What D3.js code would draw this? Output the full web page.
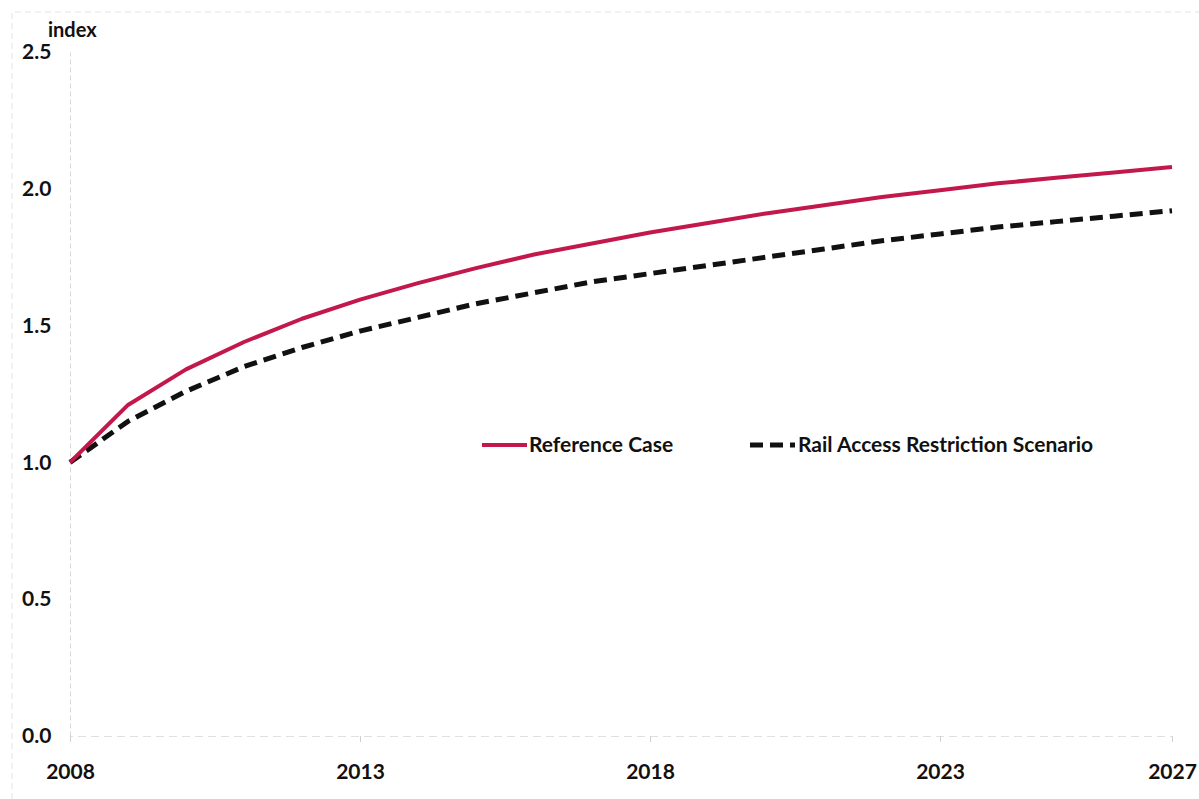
<!DOCTYPE html>
<html>
<head>
<meta charset="utf-8">
<script src="https://cdn.jsdelivr.net/npm/d3@7"></script>
<style>
  body { margin: 0; background: #fff; }
  text { font-family: Lato, "Open Sans", sans-serif; }
</style>
</head>
<body>
<div id="chart"></div>
<script>
// data
const years = [2008, 2009, 2010, 2011, 2012, 2013, 2014, 2015, 2016, 2017,
  2018, 2019, 2020, 2021, 2022, 2023, 2024, 2025, 2026, 2027];
const referenceCase = [1.00, 1.21, 1.34, 1.44, 1.525, 1.595, 1.655, 1.71, 1.76, 1.80,
  1.84, 1.875, 1.91, 1.94, 1.97, 1.995, 2.02, 2.04, 2.06, 2.08];
const railRestriction = [1.00, 1.15, 1.26, 1.35, 1.42, 1.48, 1.53, 1.58, 1.62, 1.66,
  1.69, 1.72, 1.75, 1.78, 1.81, 1.835, 1.86, 1.88, 1.90, 1.92];
const xTicks = [2008, 2013, 2018, 2023, 2027];
const yTicks = [0, 0.5, 1.0, 1.5, 2.0, 2.5];
const seriesNames = ['Reference Case', 'Rail Access Restriction Scenario'];

const width = 1199, height = 799;
const plotLeft = 70, plotRight = 1172, plotTop = 52, plotBottom = 736;
const labelFont = '21px';

let svg = d3.select('#chart')
  .append('svg')
  .attr('width', width)
  .attr('height', height);

let xScale = d3.scaleLinear().domain([2008, 2027]).range([plotLeft, plotRight]);
let yScale = d3.scaleLinear().domain([0, 2.5]).range([plotBottom, plotTop]);

// faint scan border
svg.append('path')
  .attr('d', `M12,${height} V12 H${width}`)
  .attr('fill', 'none')
  .attr('stroke', '#e4e4e4')
  .attr('stroke-width', 1)
  .attr('stroke-dasharray', '6,4');

// axes (very light, like the scan)
let yAxis = svg.append('g')
  .attr('transform', `translate(${plotLeft},0)`)
  .call(d3.axisLeft(yScale).tickValues(yTicks).tickSize(0).tickFormat(d3.format('.1f')));
yAxis.select('.domain').attr('stroke', '#d8d8d8').attr('stroke-dasharray', '5,3');
yAxis.selectAll('text')
  .attr('x', -48)
  .attr('text-anchor', 'start')
  .attr('fill', '#111')
  .style('font-size', labelFont)
  .style('font-weight', 'bold');

let xAxis = svg.append('g')
  .attr('transform', `translate(0,${plotBottom})`)
  .call(d3.axisBottom(xScale).tickValues(xTicks).tickSize(6).tickFormat(d3.format('d')));
xAxis.select('.domain').attr('stroke', '#e0e0e0').attr('stroke-dasharray', '8,5');
xAxis.selectAll('.tick line').attr('stroke', '#d0d0d0');
xAxis.selectAll('text')
  .attr('y', 28)
  .attr('fill', '#111')
  .style('font-size', labelFont)
  .style('font-weight', 'bold');

svg.append('text')
  .attr('x', 48)
  .attr('y', 37)
  .attr('fill', '#111')
  .style('font-size', '20px')
  .style('font-weight', 'bold')
  .text('index');

// lines, straight segments between the yearly points
const line = d3.line()
  .x((d, i) => xScale(years[i]))
  .y(d => yScale(d));

svg.append('path')
  .datum(railRestriction)
  .attr('fill', 'none')
  .attr('stroke', '#111')
  .attr('stroke-width', 5)
  .attr('stroke-dasharray', '13,7')
  .attr('d', line);

svg.append('path')
  .datum(referenceCase)
  .attr('fill', 'none')
  .attr('stroke', '#c2184c')
  .attr('stroke-width', 4)
  .attr('stroke-linejoin', 'round')
  .attr('d', line);

// legend
let legend = svg.append('g');
legend.append('line')
  .attr('x1', 482).attr('x2', 527).attr('y1', 445).attr('y2', 445)
  .attr('stroke', '#c2184c').attr('stroke-width', 4);
legend.append('text')
  .attr('x', 529).attr('y', 452)
  .attr('fill', '#111')
  .style('font-size', labelFont)
  .style('font-weight', 'bold')
  .text(seriesNames[0]);

legend.append('line')
  .attr('x1', 750).attr('x2', 796).attr('y1', 445).attr('y2', 445)
  .attr('stroke', '#111').attr('stroke-width', 5)
  .attr('stroke-dasharray', '13,7,13,7,5');
legend.append('text')
  .attr('x', 798).attr('y', 452)
  .attr('fill', '#111')
  .style('font-size', labelFont)
  .style('font-weight', 'bold')
  .text(seriesNames[1]);
</script>
</body>
</html>
